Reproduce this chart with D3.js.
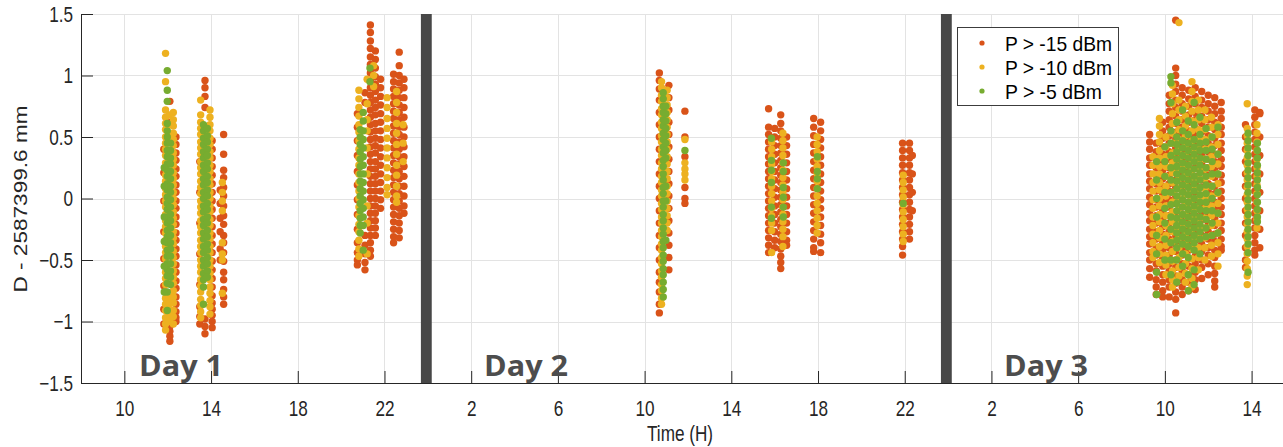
<!DOCTYPE html>
<html>
<head>
<meta charset="utf-8">
<script src="https://cdn.jsdelivr.net/npm/d3@7"></script>
<style>
  body { margin: 0; background: #fff; }
  svg { display: block; font-family: "Liberation Sans", Arial, sans-serif; }
</style>
</head>
<body>
<svg width="1283" height="447"></svg>
<script>
// series (drawn in this order: orange under yellow under green)
const seriesNames = ["P > -15 dBm", "P > -10 dBm", "P > -5 dBm"];
const seriesColors = ["#D95319", "#EDB120", "#77AC30"];

// time axis: continuous hours from day 1 midnight
const xTicks = [10, 14, 18, 22, 26, 30, 34, 38, 42, 46, 50, 54, 58, 62];
const xTickLabels = ["10", "14", "18", "22", "2", "6", "10", "14", "18", "22", "2", "6", "10", "14"];
const yTicks = [-1.5, -1, -0.5, 0, 0.5, 1, 1.5];
const dayBreaks = [23.93, 47.92];
const dayNames = ["Day 1", "Day 2", "Day 3"];

// each entry: [time (h), [D values in mm]]
const p15 = [
  [11.82, [0.4,0.21,-0.02,-0.27,-0.49,-0.71,-0.9,-1.02]],
  [12.1, [0.79,0.62,-1.04,-1.12,-1.16,-1.08]],
  [12.38, [0.5,0.44,0.37,0.31,0.24,0.18,0.11,0.05,-0.02,-0.08,-0.15,-0.21,-0.28,-0.34,-0.41,-0.47,-0.54,-0.6,-0.67,-0.73,-0.8,-0.86,-0.92,-0.97,-1.0]],
  [13.48, [0.3,0.05,-0.2,-0.45,-0.7,-0.88,-0.96,-1.02]],
  [13.72, [0.96,0.9,0.83,0.74,-0.98,-1.04,-1.1]],
  [14.05, [0.47,0.4,0.33,0.26,0.19,0.12,0.05,-0.02,-0.09,-0.16,-0.23,-0.3,-0.37,-0.44,-0.51,-0.58,-0.65,-0.72,-0.79,-0.85,-0.9,-0.95,-1.0,-1.05]],
  [14.58, [0.52,0.36,0.23,0.17,0.09,0.02,-0.06,-0.14,-0.21,-0.3,-0.36,-0.44,-0.51,-0.6,-0.66,-0.74,-0.8,-0.86]],
  [14.42, [0.07,-0.04,-0.16,-0.27,-0.41,-0.5]],
  [20.75, [0.69,0.58,0.47,0.35,0.22,0.11,-0.01,-0.13,-0.25,-0.36,-0.44,-0.5,-0.54]],
  [21.1, [0.86,0.78,-0.3,-0.38,-0.45,-0.52,-0.58]],
  [21.35, [1.41,1.35,1.28,1.22,1.15,1.09,1.02,0.96,0.9,0.84,0.78,0.72,0.66,0.6,0.54,0.48,0.42,0.36,0.3,0.24,0.18,0.12,0.06,0.0,-0.06,-0.12,-0.18,-0.24,-0.3,-0.36,-0.42,-0.47]],
  [21.58, [1.2,1.13,1.06,0.99,0.93,0.87,0.8,0.74,0.68,0.61,0.55,0.49,0.43,0.37,0.3,0.24,0.18,0.12,0.06,0.0,-0.06,-0.12,-0.18,-0.24,-0.3]],
  [21.82, [0.97,0.9,0.83,0.76,0.69,0.62,0.55,0.48,0.41,0.34,0.27,0.2,0.13,0.06,-0.01,-0.08]],
  [22.42, [1.01,0.95,0.89,0.83,0.77,0.71,0.65,0.59,0.53,0.47,0.41,0.35,0.29,0.23,0.17,0.11,0.05,-0.01,-0.07,-0.13,-0.19,-0.25,-0.31,-0.36]],
  [22.68, [1.19,1.08,1.0,0.94,0.88,0.82,0.76,0.7,0.64,0.58,0.52,0.46,0.4,0.34,0.28,0.22,0.16,0.1,0.04,-0.02,-0.08,-0.14,-0.2,-0.26,-0.32]],
  [22.9, [0.97,0.9,0.82,0.74,0.66,0.58,0.5,0.42,0.34,0.26,0.18,0.1,0.02,-0.06,-0.12]],
  [34.68, [1.02,0.96,0.89,0.8,0.7,0.6,0.5,0.4,0.3,0.2,0.1,0.0,-0.1,-0.2,-0.3,-0.4,-0.5,-0.6,-0.68,-0.76,-0.86,-0.93]],
  [35.12, [0.92,0.82,0.72,0.62,0.52,0.42,0.32,0.22,0.12,0.02,-0.08,-0.18,-0.28,-0.38,-0.48,-0.58]],
  [35.86, [0.71,0.5,0.34,0.09,0.0,-0.04]],
  [39.72, [0.73,0.58,0.52,0.46,0.4,0.34,0.28,0.22,0.16,0.1,0.04,-0.02,-0.08,-0.14,-0.2,-0.26,-0.32,-0.38,-0.44]],
  [40.0, [0.57,0.5,0.43,0.36,0.29,0.22,0.15,0.08,0.01,-0.06,-0.13,-0.2,-0.27,-0.34,-0.4]],
  [40.28, [0.68,0.61,0.55,0.49,0.43,0.37,0.31,0.25,0.19,0.13,0.07,0.01,-0.05,-0.11,-0.17,-0.23,-0.29,-0.35,-0.41,-0.47,-0.52,-0.57]],
  [40.55, [0.5,0.43,0.36,0.29,0.22,0.15,0.08,0.01,-0.06,-0.13,-0.2,-0.27,-0.34,-0.38]],
  [41.8, [0.65,0.58,0.51,0.44,0.37,0.3,0.23,0.16,0.09,0.02,-0.05,-0.12,-0.19,-0.26,-0.33,-0.4,-0.43]],
  [42.12, [0.62,0.55,0.48,0.41,0.34,0.27,0.2,0.13,0.06,-0.01,-0.08,-0.15,-0.22,-0.29,-0.36,-0.44]],
  [45.9, [0.45,0.39,0.33,0.27,0.21,0.15,0.09,0.03,-0.03,-0.09,-0.15,-0.21,-0.27,-0.33,-0.39,-0.46]],
  [46.22, [0.45,0.39,0.33,0.27,0.21,0.15,0.09,0.03,-0.03,-0.09,-0.15,-0.21,-0.27,-0.33]],
  [46.35, [0.35,0.2,0.05,-0.1]],
  [57.3, [0.52,0.46,0.4,0.33,0.27,0.2,0.14,0.08,0.01,-0.05,-0.12,-0.18,-0.25,-0.31,-0.37,-0.44,-0.5,-0.57,-0.64]],
  [57.6, [0.45,0.38,0.32,0.25,0.19,0.12,0.06,-0.01,-0.07,-0.14,-0.2,-0.27,-0.33,-0.4,-0.46,-0.53,-0.59,-0.66,-0.72,-0.78]],
  [57.9, [0.62,0.55,0.49,0.42,0.36,0.29,0.23,0.16,0.1,0.03,-0.03,-0.1,-0.16,-0.23,-0.29,-0.36,-0.42,-0.49,-0.55,-0.62,-0.68,-0.75,-0.8]],
  [58.2, [0.84,0.77,0.71,0.64,0.58,0.51,0.45,0.38,0.32,0.25,0.19,0.12,0.06,-0.01,-0.07,-0.14,-0.2,-0.27,-0.33,-0.4,-0.46,-0.53,-0.59,-0.66,-0.72,-0.8]],
  [58.5, [1.45,1.06,1.0,0.93,0.87,0.8,0.74,0.67,0.61,0.54,0.48,0.41,0.35,0.28,0.22,0.15,0.09,0.02,-0.04,-0.11,-0.17,-0.24,-0.3,-0.37,-0.43,-0.5,-0.56,-0.63,-0.69,-0.76,-0.82,-0.93]],
  [58.8, [0.9,0.84,0.77,0.71,0.64,0.58,0.51,0.45,0.38,0.32,0.25,0.19,0.12,0.06,-0.01,-0.07,-0.14,-0.2,-0.27,-0.33,-0.4,-0.46,-0.53,-0.59,-0.66,-0.72,-0.78]],
  [59.1, [0.88,0.81,0.75,0.68,0.62,0.55,0.49,0.42,0.36,0.29,0.23,0.16,0.1,0.03,-0.03,-0.1,-0.16,-0.23,-0.29,-0.36,-0.42,-0.49,-0.55,-0.62,-0.68,-0.75]],
  [59.4, [0.9,0.83,0.77,0.7,0.64,0.57,0.51,0.44,0.38,0.31,0.25,0.18,0.12,0.05,-0.01,-0.08,-0.14,-0.21,-0.27,-0.34,-0.4,-0.47,-0.53,-0.6,-0.66,-0.74]],
  [59.7, [0.87,0.8,0.74,0.67,0.61,0.54,0.48,0.41,0.35,0.28,0.22,0.15,0.09,0.02,-0.04,-0.11,-0.17,-0.24,-0.3,-0.37,-0.43,-0.5,-0.56,-0.65]],
  [60.0, [0.84,0.77,0.71,0.64,0.58,0.51,0.45,0.38,0.32,0.25,0.19,0.12,0.06,-0.01,-0.07,-0.14,-0.2,-0.27,-0.33,-0.4,-0.46,-0.53,-0.62]],
  [60.3, [0.82,0.75,0.69,0.62,0.56,0.49,0.43,0.36,0.3,0.23,0.17,0.1,0.04,-0.03,-0.09,-0.16,-0.22,-0.29,-0.35,-0.42,-0.48,-0.55,-0.61,-0.67,-0.72]],
  [60.6, [0.78,0.71,0.65,0.58,0.52,0.45,0.39,0.32,0.26,0.19,0.13,0.06,0.0,-0.07,-0.13,-0.2,-0.26,-0.33,-0.39,-0.42]],
  [61.72, [0.6,0.5,0.4,0.3,0.2,0.1,0.0,-0.1,-0.2,-0.3,-0.4,-0.5,-0.56]],
  [62.15, [0.72,0.66,0.6,0.54,0.48,0.42,0.36,0.3,0.24,0.18,0.12,0.06,0.0,-0.06,-0.12,-0.18,-0.24,-0.3,-0.36,-0.42,-0.46]],
  [62.38, [0.7,0.69,0.5,0.35,0.2,0.05,-0.1,-0.25,-0.4]]
];

const p10 = [
  [11.9, [1.18,0.95,0.72,0.66,0.61,0.56,0.5,0.45,0.4,0.35,0.29,0.24,0.19,0.14,0.08,0.03,-0.02,-0.07,-0.13,-0.18,-0.23,-0.28,-0.34,-0.39,-0.44,-0.49,-0.55,-0.6,-0.65,-0.7,-0.76,-0.81,-0.86,-0.91,-0.97,-1.02,-1.07]],
  [12.08, [0.68,0.6,0.52,-0.8,-0.85,-0.9,-0.95,-1.0]],
  [12.26, [0.7,0.64,0.59,0.53,0.48,0.43,0.37,0.32,0.27,0.21,0.16,0.11,0.05,0.0,-0.05,-0.11,-0.16,-0.21,-0.27,-0.32,-0.37,-0.43,-0.48,-0.53,-0.59,-0.64,-0.69,-0.75,-0.8,-0.85,-0.91,-0.96,-1.02]],
  [13.52, [0.8,0.68,0.62,0.57,0.52,0.46,0.41,0.36,0.3,0.25,0.2,0.14,0.09,0.04,-0.02,-0.07,-0.12,-0.18,-0.23,-0.28,-0.34,-0.39,-0.44,-0.5,-0.55,-0.6,-0.66,-0.71,-0.76,-0.82,-0.87,-0.92,-0.97]],
  [13.95, [0.72,0.66,0.6,0.55,0.49,0.44,0.38,0.33,0.27,0.22,0.16,0.11,0.05,0.0,-0.06,-0.11,-0.17,-0.22,-0.28,-0.33,-0.39,-0.44,-0.5,-0.55,-0.61,-0.66,-0.72,-0.77,-0.83,-0.88,-0.94]],
  [14.52, [0.13,0.05,-0.02,-0.1,-0.36,-0.45,-0.5,-0.77]],
  [20.82, [0.88,0.81,0.74,0.67,0.6,0.54,0.47,0.4,0.33,0.27,0.2,0.13,0.06,0.0,-0.07,-0.14,-0.21,-0.27,-0.34,-0.41,-0.47]],
  [21.2, [0.97,0.77,0.64,0.55,0.41,0.2,-0.06,-0.2,-0.45]],
  [21.5, [1.08,1.0,0.91]],
  [22.12, [0.82,0.74,0.65,0.57,0.49,0.41,0.33,0.25,0.17,0.09,0.03]],
  [22.56, [0.87,0.78,0.7,0.61,0.53,0.44,0.36,0.27,0.19,0.1,0.02,-0.03]],
  [22.86, [0.6,0.45,0.3]],
  [34.78, [0.95,0.9,0.84,0.79,0.73,0.68,0.62,0.57,0.51,0.46,0.4,0.35,0.29,0.24,0.18,0.13,0.07,0.02,-0.04,-0.09,-0.15,-0.2,-0.26,-0.31,-0.37,-0.42,-0.48,-0.53,-0.59,-0.64,-0.7,-0.75,-0.81,-0.86]],
  [35.04, [0.88,0.82,0.76,0.7,0.64,0.58,0.52,0.46,0.4,0.34,0.28,0.22,0.16,0.1,0.04,-0.02,-0.08,-0.14,-0.2,-0.26]],
  [35.86, [0.48,0.29,0.24,0.2,0.15]],
  [39.86, [0.46,0.4,0.34,0.28,0.22,0.16,0.1,0.04,-0.02,-0.08,-0.14,-0.2,-0.26,-0.44]],
  [40.38, [0.53,0.47,0.41,0.35,0.29,0.23,0.17,0.11,0.05,-0.01,-0.07,-0.13,-0.19,-0.25,-0.31,-0.39]],
  [41.96, [0.5,0.44,0.38,0.32,0.26,0.2,0.14,0.08,0.02,-0.04,-0.1,-0.16,-0.22,-0.28]],
  [45.93, [0.19,0.13,0.07,0.01,-0.05,-0.11,-0.17,-0.23,-0.29,-0.35]],
  [57.45, [0.34,0.27,0.2,0.13,0.06,-0.01,-0.08,-0.15,-0.22,-0.29,-0.36,-0.43,-0.48]],
  [57.75, [0.65,0.59,0.52,0.46,0.39,0.33,0.26,0.2,0.13,0.07,0.0,-0.06,-0.13,-0.19,-0.26,-0.32,-0.39,-0.45,-0.52]],
  [58.05, [0.5,0.42,0.34,0.26,0.18,0.1,0.02,-0.06,-0.14,-0.22,-0.3,-0.38,-0.46,-0.54,-0.62]],
  [58.35, [0.92,0.85,0.77,0.69,0.61,0.53,0.45,0.37,0.29,0.21,0.13,0.05,-0.03,-0.11,-0.19,-0.27,-0.35,-0.43,-0.51,-0.59,-0.66,-0.72]],
  [58.65, [1.43,0.8,0.72,0.64,0.56,0.48,0.4,0.32,0.24,0.16,0.08,0.0,-0.08,-0.16,-0.24,-0.32,-0.4,-0.48,-0.56,-0.63]],
  [58.95, [0.75,0.67,0.59,0.51,0.43,0.35,0.27,0.19,0.11,0.03,-0.05,-0.13,-0.21,-0.29,-0.37,-0.45,-0.53,-0.61,-0.68]],
  [59.25, [0.95,0.87,0.79,0.71,0.63,0.55,0.47,0.39,0.31,0.23,0.15,0.07,-0.01,-0.09,-0.17,-0.25,-0.33,-0.41,-0.49,-0.57,-0.65,-0.72]],
  [59.55, [0.8,0.72,0.64,0.56,0.48,0.4,0.32,0.24,0.16,0.08,0.0,-0.08,-0.16,-0.24,-0.32,-0.4,-0.48,-0.58]],
  [59.85, [0.72,0.64,0.56,0.48,0.4,0.32,0.24,0.16,0.08,0.0,-0.08,-0.16,-0.24,-0.32,-0.4,-0.5]],
  [60.15, [0.66,0.58,0.5,0.42,0.34,0.26,0.18,0.1,0.02,-0.06,-0.14,-0.22,-0.3,-0.38,-0.47]],
  [60.45, [0.6,0.52,0.44,0.36,0.28,0.2,0.12,0.04,-0.04,-0.12,-0.2,-0.28,-0.36,-0.45,-0.55]],
  [61.8, [0.77,0.57,0.51,0.45,0.39,0.33,0.27,0.21,0.15,0.09,0.03,-0.03,-0.09,-0.15,-0.21,-0.27,-0.33,-0.39,-0.45,-0.51,-0.57,-0.63,-0.7]],
  [62.25, [0.6,0.53,0.46,0.39,0.32,0.25,0.18,0.11,0.04,-0.03,-0.1,-0.17,-0.24]]
];

const p5 = [
  [11.98, [1.04,0.88,0.79,0.61,0.55,0.5,0.45,0.39,0.34,0.28,0.23,0.18,0.12,0.07,0.01,-0.04,-0.09,-0.15,-0.2,-0.26,-0.31,-0.36,-0.42,-0.47,-0.53,-0.58,-0.63,-0.69,-0.76,-0.91]],
  [12.13, [0.45,0.39,0.33,0.28,0.22,0.16,0.1,0.05,-0.01,-0.07,-0.13,-0.18,-0.24,-0.3,-0.36,-0.41,-0.47,-0.53,-0.59,-0.64,-0.7]],
  [11.84, [0.25,0.1,-0.15,-0.35,-0.55,-0.76]],
  [13.65, [0.6,0.55,0.49,0.44,0.38,0.33,0.27,0.22,0.16,0.11,0.05,0.0,-0.06,-0.11,-0.17,-0.22,-0.28,-0.33,-0.39,-0.44,-0.5,-0.55,-0.61,-0.66,-0.72,-0.86]],
  [13.83, [0.57,0.51,0.46,0.4,0.35,0.29,0.24,0.18,0.13,0.07,0.02,-0.04,-0.09,-0.15,-0.2,-0.26,-0.31,-0.37,-0.42,-0.48,-0.53,-0.59,-0.64]],
  [20.88, [0.56,0.5,0.44,0.38,0.32,0.26,0.2,0.14,0.08,0.02,-0.04,-0.1,-0.16,-0.22,-0.28]],
  [21.02, [0.7,0.63,0.55,0.48,0.41,0.34,0.27,0.2,0.13,0.06,-0.01,-0.08,-0.15,-0.22,-0.42]],
  [21.33, [1.06,0.95]],
  [34.86, [0.86,0.81,0.75,0.7,0.64,0.59,0.53,0.48,0.42,0.37,0.31,0.26,0.2,0.15,0.09,0.04,-0.02,-0.07,-0.13,-0.18,-0.24,-0.29,-0.35,-0.4,-0.46,-0.51,-0.57,-0.62,-0.68,-0.74,-0.8]],
  [34.98, [0.75,0.69,0.63,0.57,0.51,0.45,0.39,0.33,0.1,-0.02,-0.34]],
  [35.86, [0.39]],
  [39.85, [0.49,0.31,0.23,0.13,-0.07,-0.16]],
  [40.4, [0.29,0.22,0.09,0.01,-0.07,-0.15]],
  [41.97, [0.34,0.22,0.16,0.08]],
  [45.93, [-0.04]],
  [57.62, [0.3,0.15,0.0,-0.15,-0.3,-0.45,-0.6,-0.78]],
  [58.0, [0.42,0.3,0.18,0.05,-0.08,-0.2,-0.33,-0.5]],
  [58.28, [0.99,0.94,0.78,0.55,0.45,0.35,0.25,0.15,0.05,-0.05,-0.15,-0.25,-0.36,-0.5,-0.62]],
  [58.55, [0.62,0.5,0.44,0.38,0.32,0.26,0.2,0.14,0.08,0.02,-0.04,-0.1,-0.16,-0.22,-0.28,-0.34,-0.4,-0.5,-0.68]],
  [58.82, [0.72,0.55,0.47,0.41,0.35,0.29,0.23,0.17,0.11,0.05,-0.01,-0.07,-0.13,-0.19,-0.25,-0.31,-0.37,-0.45,-0.55]],
  [59.08, [0.63,0.52,0.45,0.39,0.33,0.27,0.21,0.15,0.09,0.03,-0.03,-0.09,-0.15,-0.21,-0.27,-0.33,-0.39,-0.48,-0.62,-0.75]],
  [59.35, [0.78,0.6,0.48,0.42,0.36,0.3,0.24,0.18,0.12,0.06,0.0,-0.06,-0.12,-0.18,-0.24,-0.3,-0.36,-0.42,-0.58,-0.7]],
  [59.62, [0.66,0.52,0.45,0.39,0.33,0.27,0.21,0.15,0.09,0.03,-0.03,-0.09,-0.15,-0.21,-0.27,-0.33,-0.45]],
  [59.9, [0.57,0.46,0.39,0.32,0.25,0.18,0.11,0.04,-0.03,-0.1,-0.17,-0.24,-0.31]],
  [60.18, [0.5,0.4,0.3,0.2,0.1,0.0,-0.1,-0.2,-0.3]],
  [60.45, [0.58,0.36,0.2,0.05,-0.12,-0.28]],
  [61.84, [0.53,0.47,0.41,0.35,0.29,0.23,0.17,0.11,0.05,-0.01,-0.07,-0.13,-0.19,-0.25,-0.31,-0.37,-0.44,-0.6]],
  [62.27, [0.45,0.39,0.33,0.27,0.21,0.15,0.09,0.03,-0.03,-0.09,-0.15,-0.19]]
];

const seriesData = [p15, p10, p5];

const svg = d3.select("svg");
const W = 1283, H = 447;
const plotL = 81, plotR = 1283, plotT = 14, plotB = 383;
const sx = 0.78; // text in the figure is horizontally compressed

svg.append("rect").attr("width", W).attr("height", H).attr("fill", "#fff");

const x = d3.scaleLinear().domain([8, 63.45]).range([plotL, plotR]);
const y = d3.scaleLinear().domain([-1.5, 1.5]).range([plotB, plotT]);

// grid
const grid = svg.append("g").attr("stroke", "#e3e3e3").attr("stroke-width", 1);
grid.selectAll(".gx").data(xTicks).enter().append("line")
  .attr("x1", d => Math.round(x(d)) + 0.5).attr("x2", d => Math.round(x(d)) + 0.5)
  .attr("y1", plotT).attr("y2", plotB);
grid.selectAll(".gy").data(yTicks).enter().append("line")
  .attr("x1", plotL).attr("x2", plotR)
  .attr("y1", d => Math.round(y(d)) + 0.5).attr("y2", d => Math.round(y(d)) + 0.5);

// points
const pts = seriesData.flatMap((cols, i) =>
  cols.flatMap(([t, ys]) => ys.map(v => ({t: t, v: v, c: seriesColors[i]}))));
svg.append("g").selectAll("circle").data(pts).enter().append("circle")
  .attr("cx", d => x(d.t)).attr("cy", d => y(d.v)).attr("r", 3.7)
  .attr("fill", d => d.c);

// day separators
svg.append("g").selectAll("rect").data(dayBreaks).enter().append("rect")
  .attr("x", d => x(d - 0.25)).attr("width", d => x(d + 0.25) - x(d - 0.25))
  .attr("y", plotT).attr("height", plotB - plotT)
  .attr("fill", "#474747");

// axes
const xAxis = svg.append("g").attr("transform", `translate(0,${plotB})`)
  .call(d3.axisBottom(x).tickValues(xTicks).tickFormat((d, i) => xTickLabels[i])
    .tickSizeInner(-12).tickSizeOuter(0).tickPadding(17));
const yAxis = svg.append("g").attr("transform", `translate(${plotL},0)`)
  .call(d3.axisLeft(y).tickValues(yTicks).tickFormat(d3.format("")).tickSizeInner(-12).tickSizeOuter(0).tickPadding(8));

[xAxis, yAxis].forEach(a => {
  a.select(".domain").attr("stroke", "#262626");
  a.selectAll(".tick line").attr("stroke", "#262626");
  a.selectAll("text").attr("fill", "#262626").attr("font-size", 22)
    .attr("font-family", "'Liberation Sans', Arial, sans-serif");
});
xAxis.selectAll("text").attr("transform", `scale(${sx},1)`);
yAxis.selectAll("text").attr("x", -8 / sx).attr("transform", `scale(${sx},1)`);
yAxis.select(".domain").attr("d", `M0.5,${plotT}V${plotB}`);

// axis titles
svg.append("text")
  .attr("transform", `translate(680,441) scale(${sx},1)`)
  .attr("text-anchor", "middle").attr("font-size", 22).attr("fill", "#262626")
  .text("Time (H)");
svg.append("text")
  .attr("transform", `translate(27,199) scale(${sx},1) rotate(-90)`)
  .attr("text-anchor", "middle").attr("font-size", 22.6).attr("fill", "#262626")
  .text("D - 2587399.6 mm");

// day labels
const dayX = [139, 484, 1004];
svg.append("g").selectAll("text").data(dayNames).enter().append("text")
  .attr("x", (d, i) => dayX[i]).attr("y", 376)
  .attr("font-family", "'Open Sans', sans-serif").attr("font-weight", 700)
  .attr("font-size", 29).attr("fill", "#4d4d4d")
  .attr("textLength", 84).attr("lengthAdjust", "spacingAndGlyphs")
  .text(d => d);

// legend
const lg = svg.append("g").attr("transform", "translate(957,27)");
lg.append("rect").attr("x", 0.5).attr("y", 0.5).attr("width", 161).attr("height", 78)
  .attr("fill", "#fff").attr("stroke", "#3c3c3c").attr("stroke-width", 1);
const rows = lg.selectAll(".row").data(seriesNames).enter().append("g")
  .attr("transform", (d, i) => `translate(0,${16 + i * 24})`);
rows.append("circle").attr("cx", 25).attr("cy", 0).attr("r", 2.6)
  .attr("fill", (d, i) => seriesColors[i]);
rows.append("text").attr("x", 48).attr("y", 7.5)
  .attr("font-size", 21).attr("fill", "#000")
  .attr("textLength", (d, i) => i === 2 ? 97 : 107).attr("lengthAdjust", "spacingAndGlyphs")
  .text(d => d);
</script>
</body>
</html>
